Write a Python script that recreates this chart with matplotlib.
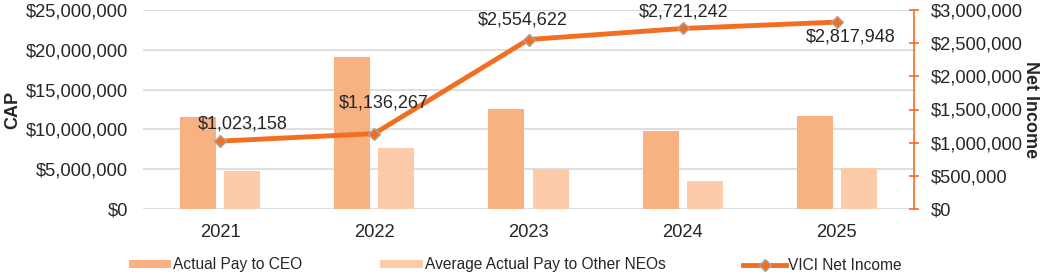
import numpy as np
import matplotlib.pyplot as plt
from matplotlib.ticker import FuncFormatter

# ── Data ───────────────────────────────────────────────────────────────────────
years = ["2021", "2022", "2023", "2024", "2025"]
ceo_pay = [11_560_000, 19_100_000, 12_560_000, 9_800_000, 11_680_000]
neo_pay = [4_770_000, 7_660_000, 5_030_000, 3_520_000, 5_150_000]
net_income = [1_023_158, 1_136_267, 2_554_622, 2_721_242, 2_817_948]

CEO_COLOR = "#f8b183"
NEO_COLOR = "#fccba9"
LINE_COLOR = "#f26f21"
GRID_COLOR = "#d9d9d9"
TEXT_COLOR = "#262626"

plt.rcParams["font.family"] = ["Liberation Sans", "DejaVu Sans"]

fig = plt.figure(figsize=(10.44, 2.75), dpi=100)
ax = fig.add_axes([143 / 1044, 1 - 209 / 275, (914 - 143) / 1044, 199 / 275])

x = np.arange(len(years))
w = 0.234
off = 0.143
b1 = ax.bar(x - off, ceo_pay, w, color=CEO_COLOR, label="Actual Pay to CEO", zorder=2)
b2 = ax.bar(x + off, neo_pay, w, color=NEO_COLOR, label="Average Actual Pay to Other NEOs", zorder=2)

ax.set_xlim(-0.5, len(years) - 0.5)
ax.set_ylim(0, 25_000_000)
ax.set_yticks(np.arange(0, 25_000_001, 5_000_000))
money = FuncFormatter(lambda v, _: f"${v:,.0f}")
ax.yaxis.set_major_formatter(money)
ax.set_xticks(x)
ax.set_xticklabels(years)
ax.tick_params(axis="both", length=0, labelsize=13.2, labelcolor=TEXT_COLOR)
ax.tick_params(axis="x", pad=11)
ax.tick_params(axis="y", pad=11)
ax.grid(axis="y", color=GRID_COLOR, lw=1.2, zorder=0)
ax.set_axisbelow(True)
for s in ax.spines.values():
    s.set_visible(False)
ax.set_ylabel("CAP", fontsize=13, fontweight="bold", color=TEXT_COLOR, labelpad=3)

# ── Net income on secondary axis ──────────────────────────────────────────────
ax2 = ax.twinx()
ax2.set_ylim(0, 3_000_000)
ax2.set_yticks(np.arange(0, 3_000_001, 500_000))
ax2.yaxis.set_major_formatter(money)
ln, = ax2.plot(x, net_income, color=LINE_COLOR, lw=3.5, marker="D", markersize=6,
               markerfacecolor=LINE_COLOR, markeredgecolor="#a6a6a6", markeredgewidth=1,
               label="VICI Net Income", zorder=3)
for s in ["top", "left", "bottom"]:
    ax2.spines[s].set_visible(False)
ax2.spines["right"].set_color(LINE_COLOR)
ax2.spines["right"].set_linewidth(1.2)
ax2.tick_params(axis="y", direction="inout", length=7, width=1.2, color=LINE_COLOR,
                labelsize=13.2, labelcolor=TEXT_COLOR, pad=8.5)
ax2.set_ylabel("Net Income", fontsize=13, fontweight="bold", color=TEXT_COLOR,
               rotation=-90, labelpad=12)

label_offsets = [(16, 12), (7, 22), (-4, 14), (1, 12), (10, -11)]
for xi, v, (dx, dy) in zip(x, net_income, label_offsets):
    ax2.annotate(f"${v:,.0f}", (xi, v), xytext=(dx, dy), textcoords="offset points",
                 ha="center", va="center", fontsize=13, color=TEXT_COLOR)

fig.legend(handles=[b1, b2, ln], loc="center", bbox_to_anchor=(515 / 1044, 1 - 265 / 275),
           ncol=3, frameon=False, fontsize=11.2, handlelength=2.75, handleheight=0.45,
           handletextpad=0.12, columnspacing=5.0, labelcolor=TEXT_COLOR)

fig.savefig("out.png", dpi=100)
